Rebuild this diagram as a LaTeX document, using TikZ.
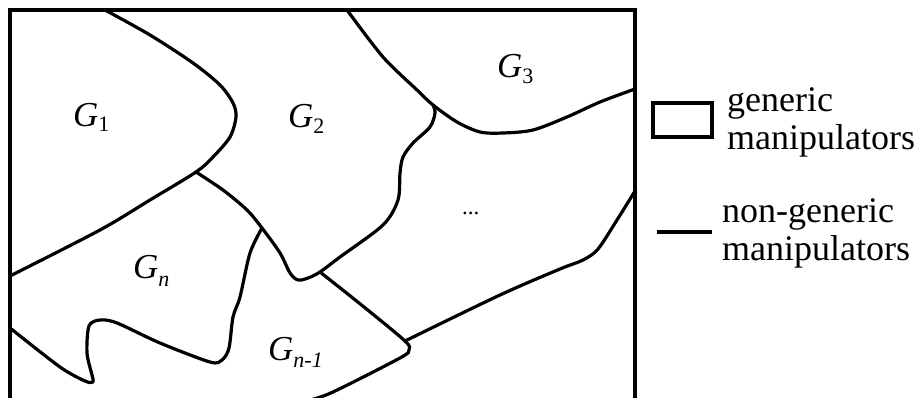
\documentclass[tikz,border=0pt]{standalone}
\usepackage{fontspec}
\setmainfont{Liberation Serif}
\begin{document}
\begin{tikzpicture}[x=1pt,y=-1pt,
  frame/.style={line width=3.5pt,line join=miter},
  bnd/.style={line width=3.2pt,line cap=round,line join=round},
  lbl/.style={anchor=base west,inner sep=0pt,font=\rmfamily\fontsize{35}{38}\selectfont},
  leg/.style={anchor=base west,inner sep=0pt,font=\rmfamily\fontsize{36}{38}\selectfont}]
\useasboundingbox (0,0) rectangle (920,398);
% frame
\draw[frame] (10,398) -- (10,10) -- (635,10) -- (635,398);
% G1 boundary
\draw[bnd] plot[smooth,tension=0.5] coordinates {(105,10) (150,35) (193,63) (220,85) (233,103) (236,117) (230,137) (213,157) (196,172) (150,200) (100,230) (10,276)};
% G2 lower boundary
\draw[bnd] plot[smooth,tension=0.5] coordinates {(196,172) (223,190) (247,210) (262,228) (280,253) (290,273) (298,280) (308,278) (320,272) (340,257) (383,225) (398,200) (400,173) (403,157) (413,143) (430,127) (435,113) (433,105)};
% G2/G3 boundary
\draw[bnd] plot[smooth,tension=0.5] coordinates {(347,10) (383,57) (417,90) (433,105) (457,122) (480,132) (503,133) (533,130) (567,117) (600,102) (635,89)};
% Gn right and bottom boundary
\draw[bnd] plot[smooth,tension=0.5] coordinates {(262,228) (250,253) (240,297) (233,317) (229,348) (222,360) (210,362) (160,343) (117,323) (100,320) (89,326) (87,353) (92,375) (93,382) (85,381) (60,367) (10,328)};
% Gn-1 boundary
\draw[bnd] plot[smooth,tension=0.5] coordinates {(320,272) (364,307) (405,341) (409,350) (400,358) (333,392) (310,400)};
% right lower boundary
\draw[bnd] plot[smooth,tension=0.5] coordinates {(405,341) (500,295) (560,269) (583,260) (598,249) (617,220) (635,191)};
% labels
\node[lbl] (g1) at (73,127) {\textit{G}\raisebox{-5pt}{\fontsize{22}{22}\selectfont 1}};
\node[lbl] (g2) at (288,128) {\textit{G}\raisebox{-6pt}{\fontsize{22}{22}\selectfont 2}};
\node[lbl] (g3) at (497,78) {\textit{G}\raisebox{-6pt}{\fontsize{22}{22}\selectfont 3}};
\node[lbl] (gn) at (133,278) {\textit{G}\raisebox{-8pt}{\fontsize{22}{22}\selectfont\textit{n}}};
\node[lbl] (gn1) at (268,360) {\textit{G}\raisebox{-7pt}{\fontsize{22}{22}\selectfont\textit{n-1}}};
\node[anchor=base west,inner sep=0pt,font=\rmfamily\fontsize{23}{23}\selectfont] (dots) at (462,214) {...};
% legend
\draw[line width=3.5pt] (653,103) rectangle (712,137);
\draw[line width=3.5pt] (657,232) -- (712,232);
\node[leg] (l1a) at (727,112) {generic};
\node[leg] (l1b) at (727,150) {manipulators};
\node[leg] (l2a) at (722,222) {non-generic};
\node[leg] (l2b) at (722,260) {manipulators};
\end{tikzpicture}
\end{document}
